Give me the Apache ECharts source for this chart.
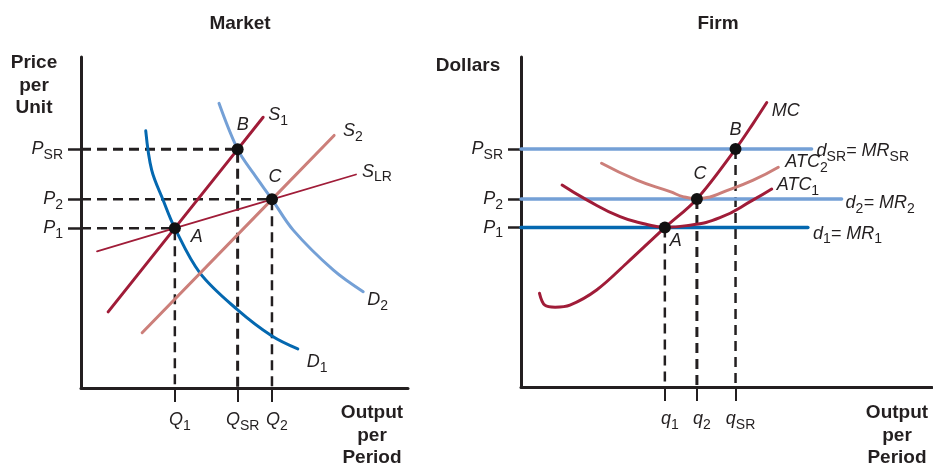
<!DOCTYPE html>
<html><head><meta charset="utf-8">
<script src="https://cdn.jsdelivr.net/npm/echarts@6/dist/echarts.min.js"></script>
<style>html,body{margin:0;padding:0;background:#fff}#c{width:933px;height:466px}</style>
</head><body><div id="c"></div>
<script>
// ---------------- shared price levels ----------------
const prices = [48.3, 57.0, 72.1];                 // P1, P2, PSR
const priceLabels = [['P','1'], ['P','2'], ['P','SR']];

// ---------------- Market panel ----------------
const marketQ = [28.7, 47.9, 58.4];                // Q1, QSR, Q2
const marketQLabels = [['Q','1'], ['Q','SR'], ['Q','2']];
const marketPointNames = ['A', 'B', 'C'];
const marketPointP = [48.3, 72.1, 57.0];           // price at each point
const supplyS1 = [[8.3,23.0],[28.7,48.3],[47.9,72.1],[55.7,81.8]];
const supplyS2 = [[18.7,16.7],[58.4,57.0],[77.4,76.3]];
const supplySLR = [[4.9,41.3],[28.7,48.3],[58.4,57.0],[84.1,64.5]];
const demandD1 = [[19.8,77.7],[21.6,65.9],[25.1,56.8],[28.7,48.3],[36.4,34.7],[47.9,23.6],[58.4,15.7],[66.3,11.8]];
const demandD2 = [[42.2,86.0],[47.9,72.1],[52.7,64.9],[58.4,57.0],[64.9,47.7],[77.2,35.6],[86.3,29.1]];

// ---------------- Firm panel ----------------
const firmQ = [35.0, 42.8, 52.2];                  // q1, q2, qSR
const firmQLabels = [['q','1'], ['q','2'], ['q','SR']];
const firmPointNames = ['A', 'C', 'B'];
const firmPointP = [48.3, 57.0, 72.1];
const mcCurve = [[4.5,28.4],[5.8,24.8],[8.3,24.2],[11.9,24.8],[18.4,29.4],[25.7,37.5],[35.0,48.3],[42.8,57.0],[52.2,72.1],[56.5,79.9],[59.8,86.2]];
const atc1Curve = [[10.0,61.2],[16.0,56.7],[24.1,51.6],[30.2,49.4],[35.0,48.4],[40.3,48.9],[48.4,51.3],[56.5,56.7],[61.0,60.0]];
const atc2Curve = [[19.6,67.8],[28.2,62.7],[36.3,59.2],[39.4,57.7],[42.8,57.1],[46.0,57.6],[48.4,58.7],[56.5,62.7],[62.6,66.6]];
const demandEnds = [69.8, 78.0, 70.7];             // d1, d2, dSR right ends (at P1, P2, PSR)

// ---------------- styling ----------------
const TXT = '#231F20';
const FONT = '"Liberation Sans", Arial, sans-serif';
const DARKRED = '#A01C38', PINK = '#CC7F7A', LIGHTBLUE = '#74A0D6', DARKBLUE = '#0468B0';
const rich = {
  m: {fontFamily: FONT, fontStyle: 'italic', fontSize: 18, lineHeight: 26, color: TXT},
  s: {fontFamily: FONT, fontSize: 14, lineHeight: 14, verticalAlign: 'bottom', color: TXT}
};
const sub = (m, s) => `{m|${m}}` + (s ? `{s|${s}}` : '');
function nearestIdx(arr, v) {
  let b = 0; for (let i = 1; i < arr.length; i++) if (Math.abs(arr[i]-v) < Math.abs(arr[b]-v)) b = i; return b;
}

function xAxis(gi, ticks, labels) {
  return {
    type: 'value', gridIndex: gi, min: 0, max: 100,
    axisLine: {show: true, lineStyle: {color: TXT, width: 3}},
    splitLine: {show: false},
    axisTick: {show: true, customValues: ticks, length: 14, lineStyle: {color: TXT, width: 2}},
    axisLabel: {show: true, customValues: ticks, margin: 19, padding: [0,0,0,10], rich,
      formatter: v => { const l = labels[nearestIdx(ticks, v)]; return sub(l[0], l[1]); }}
  };
}
function yAxis(gi, ticks, labels) {
  return {
    type: 'value', gridIndex: gi, min: 0, max: 100,
    axisLine: {show: true, lineStyle: {color: TXT, width: 3}},
    splitLine: {show: false},
    axisTick: {show: true, customValues: ticks, length: 13, lineStyle: {color: TXT, width: 2.5}},
    axisLabel: {show: true, customValues: ticks, margin: 18, rich,
      formatter: v => { const l = labels[nearestIdx(ticks, v)]; return sub(l[0], l[1]); }}
  };
}
function curve(gi, data, color, width, text, offset, smooth) {
  return {
    type: 'line', xAxisIndex: gi, yAxisIndex: gi, data, symbol: 'none', silent: true,
    smooth: smooth || false,
    lineStyle: {color, width, cap: 'round'},
    endLabel: text ? {show: true, formatter: text, rich, distance: 5, offset} : {show: false},
    z: 3
  };
}
function dashed(gi, pts, width) {
  return {
    type: 'line', xAxisIndex: gi, yAxisIndex: gi, data: pts, symbol: 'none', silent: true,
    lineStyle: {color: TXT, width, type: [10, 6]}, z: 2
  };
}
function points(gi, qs, ps, names, offsets) {
  return {
    type: 'scatter', xAxisIndex: gi, yAxisIndex: gi, symbolSize: 12, silent: true, z: 5,
    itemStyle: {color: '#111', opacity: 1},
    data: qs.map((q, i) => ({value: [q, ps[i]], label: {show: true, position: 'inside',
      offset: offsets[i], formatter: `{m|${names[i]}}`, rich}}))
  };
}

const series = [];
// Market dashed guides
marketQ.forEach((q, i) => series.push(dashed(0, [[0, marketPointP[i]], [q, marketPointP[i]], [q, 0]], i === 1 ? 3 : 2.5)));
series.push(curve(0, demandD2, LIGHTBLUE, 3, sub('D','2'), [-1, 8], 0.35));
series.push(curve(0, demandD1, DARKBLUE, 3, sub('D','1'), [4, 13], 0.35));
series.push(curve(0, supplyS2, PINK, 3, sub('S','2'), [4, -4], false));
series.push(curve(0, supplyS1, DARKRED, 3, sub('S','1'), [0, -2], false));
series.push(curve(0, supplySLR, DARKRED, 1.8, sub('S','LR'), [1, -3], false));
series.push(points(0, marketQ, marketPointP, marketPointNames, [[22, 9], [5, -24], [3, -22]]));

// Firm dashed guides
firmQ.forEach((q, i) => series.push(dashed(1, [[q, firmPointP[i]], [q, 0]], i === 1 ? 3 : 2.5)));
series.push(curve(1, [[0, prices[0]], [demandEnds[0], prices[0]]], DARKBLUE, 3.5, '{m|d}{s|1}{m|= MR}{s|1}', [0, 6], false));
series.push(curve(1, [[0, prices[1]], [demandEnds[1], prices[1]]], LIGHTBLUE, 3.5, '{m|d}{s|2}{m|= MR}{s|2}', [-1, 4], false));
series.push(curve(1, [[0, prices[2]], [demandEnds[2], prices[2]]], LIGHTBLUE, 3.5, '{m|d}{s|SR}{m|= MR}{s|SR}', [0, 2], false));
series.push(curve(1, atc2Curve, PINK, 3, sub('ATC','2'), [2, -5], 0.5));
series.push(curve(1, atc1Curve, DARKRED, 3, sub('ATC','1'), [0, -4], 0.5));
series.push(curve(1, mcCurve, DARKRED, 3, sub('MC'), [0, 8], 0.35));
series.push(points(1, firmQ, firmPointP, firmPointNames, [[11, 13], [3, -25], [0, -19]]));

const bold = (text, x, y) => ({
  type: 'text', x, y, silent: true,
  style: {text, fill: TXT, font: `bold 19px ${FONT}`, textAlign: 'center', textVerticalAlign: 'top', lineHeight: 22.5}
});

const chart = echarts.init(document.getElementById('c'), null, {renderer: 'canvas'});
chart.setOption({
  animation: false,
  backgroundColor: '#fff',
  grid: [
    {left: 81, top: 57, width: 327, height: 331, containLabel: false},
    {left: 521, top: 57, width: 411, height: 330, containLabel: false}
  ],
  xAxis: [xAxis(0, marketQ, marketQLabels), xAxis(1, firmQ, firmQLabels)],
  yAxis: [yAxis(0, prices, priceLabels), yAxis(1, prices, priceLabels)],
  series,
  graphic: [
    bold('Market', 240, 13),
    bold('Firm', 718, 13),
    bold('Price\nper\nUnit', 34, 52),
    bold('Dollars', 468, 55),
    bold('Output\nper\nPeriod', 372, 402),
    bold('Output\nper\nPeriod', 897, 402)
  ]
});
</script></body></html>
